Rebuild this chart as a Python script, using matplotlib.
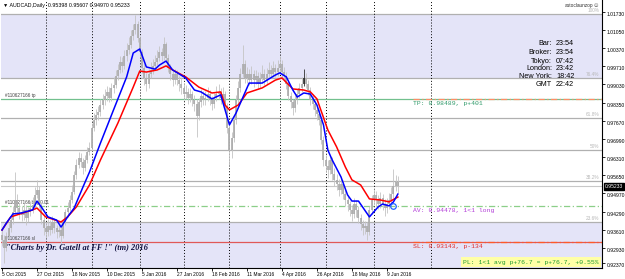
import matplotlib
matplotlib.use('Agg')
import matplotlib.pyplot as plt
from matplotlib.transforms import ScaledTranslation

plt.rcParams['font.family'] = ['Liberation Sans', 'DejaVu Sans']

# ---- data (daily bars from 5 Oct 2015) ----
symbol_line = 'AUDCAD,Daily  0.95398 0.95607 0.94970 0.95233'
open0 = 0.9340
closes = [
    0.9323, 0.9293, 0.9338, 0.9368, 0.9397, 0.9427, 0.9472, 0.9442, 0.9427, 0.9416,
    0.9435, 0.9405, 0.9427, 0.9442, 0.9453, 0.9491, 0.9509, 0.9453, 0.9397, 0.9368,
    0.9353, 0.9375, 0.9360, 0.9390, 0.9368, 0.9353, 0.9360, 0.9338, 0.9390, 0.9427,
    0.9442, 0.9472, 0.9502, 0.9565, 0.9602, 0.9629, 0.9614, 0.9591, 0.9621, 0.9651,
    0.9666, 0.9740, 0.9770, 0.9789, 0.9800, 0.9826, 0.9845, 0.9860, 0.9875, 0.9852,
    0.9890, 0.9901, 0.9934, 0.9957, 0.9987, 0.9972, 1.0009, 1.0031, 1.0050, 1.0084,
    1.0106, 1.0128, 1.0076, 1.0024, 0.9964, 0.9927, 0.9905, 0.9942, 0.9957, 0.9972,
    0.9987, 1.0002, 1.0024, 1.0009, 1.0054, 1.0002, 0.9964, 0.9942, 0.9919, 0.9942,
    0.9919, 0.9905, 0.9890, 0.9867, 0.9875, 0.9852, 0.9867, 0.9845, 0.9830, 0.9785,
    0.9837, 0.9860, 0.9845, 0.9852, 0.9867, 0.9845, 0.9830, 0.9852, 0.9867, 0.9875,
    0.9852, 0.9867, 0.9823, 0.9740, 0.9658, 0.9703, 0.9770, 0.9845, 0.9890, 0.9942,
    0.9979, 0.9927, 0.9942, 0.9919, 0.9942, 0.9919, 0.9934, 0.9905, 0.9927, 0.9942,
    0.9919, 0.9942, 0.9957, 0.9942, 0.9964, 0.9949, 0.9964, 0.9979, 0.9949, 0.9934,
    0.9905, 0.9860, 0.9837, 0.9815, 0.9845, 0.9867, 0.9890, 0.9905, 0.9927, 0.9905,
    0.9882, 0.9845, 0.9830, 0.9808, 0.9793, 0.9770, 0.9696, 0.9621, 0.9599, 0.9584,
    0.9621, 0.9569, 0.9547, 0.9532, 0.9509, 0.9532, 0.9494, 0.9472, 0.9457, 0.9435,
    0.9420, 0.9457, 0.9435, 0.9405, 0.9382, 0.9368, 0.9375, 0.9353, 0.9435, 0.9472,
    0.9491, 0.9472, 0.9457, 0.9479, 0.9457, 0.9442, 0.9457, 0.9472, 0.9494, 0.9524,
    0.9540, 0.95233,
]
highs = [
    0.9362, 0.9341, 0.9352, 0.9385, 0.9410, 0.9449, 0.9576, 0.9495, 0.9460, 0.9448,
    0.9461, 0.9452, 0.9444, 0.9470, 0.9482, 0.9520, 0.9547, 0.9524, 0.9466, 0.9415,
    0.9389, 0.9401, 0.9398, 0.9412, 0.9405, 0.9380, 0.9384, 0.9371, 0.9402, 0.9440,
    0.9466, 0.9490, 0.9528, 0.9580, 0.9625, 0.9651, 0.9648, 0.9630, 0.9640, 0.9668,
    0.9690, 0.9760, 0.9795, 0.9812, 0.9823, 0.9850, 0.9868, 0.9885, 0.9896, 0.9893,
    0.9910, 0.9930, 0.9955, 0.9980, 1.0010, 1.0005, 1.0032, 1.0058, 1.0078, 1.0105,
    1.0130, 1.0162, 1.0140, 1.0085, 1.0035, 0.9980, 0.9945, 0.9960, 0.9985, 0.9998,
    1.0012, 1.0030, 1.0048, 1.0040, 1.0080, 1.0062, 1.0015, 0.9980, 0.9955, 0.9962,
    0.9958, 0.9935, 0.9925, 0.9908, 0.9900, 0.9890, 0.9888, 0.9880, 0.9862, 0.9848,
    0.9852, 0.9885, 0.9878, 0.9880, 0.9895, 0.9882, 0.9860, 0.9870, 0.9898, 0.9905,
    0.9890, 0.9892, 0.9880, 0.9835, 0.9755, 0.9725, 0.9790, 0.9862, 0.9915, 0.9965,
    1.0050, 0.9995, 0.9968, 0.9960, 0.9970, 0.9955, 0.9958, 0.9948, 0.9950, 0.9975,
    0.9960, 0.9965, 0.9985, 0.9975, 0.9990, 0.9980, 0.9995, 1.0010, 0.9995, 0.9968,
    0.9948, 0.9920, 0.9875, 0.9850, 0.9862, 0.9885, 0.9910, 0.9930, 0.9960, 0.9945,
    0.9918, 0.9895, 0.9868, 0.9845, 0.9825, 0.9810, 0.9782, 0.9710, 0.9640, 0.9620,
    0.9640, 0.9632, 0.9590, 0.9570, 0.9550, 0.9555, 0.9545, 0.9510, 0.9490, 0.9470,
    0.9455, 0.9480, 0.9472, 0.9450, 0.9420, 0.9398, 0.9395, 0.9390, 0.9450, 0.9490,
    0.9512, 0.9505, 0.9490, 0.9500, 0.9495, 0.9475, 0.9480, 0.9498, 0.9520, 0.9588,
    0.9565, 0.95607,
]
lows = [
    0.9301, 0.9237, 0.9280, 0.9325, 0.9352, 0.9384, 0.9418, 0.9428, 0.9401, 0.9392,
    0.9399, 0.9380, 0.9390, 0.9413, 0.9425, 0.9440, 0.9478, 0.9441, 0.9381, 0.9340,
    0.9330, 0.9339, 0.9341, 0.9350, 0.9349, 0.9329, 0.9335, 0.9312, 0.9330, 0.9378,
    0.9410, 0.9430, 0.9460, 0.9495, 0.9551, 0.9590, 0.9596, 0.9570, 0.9580, 0.9610,
    0.9638, 0.9655, 0.9728, 0.9752, 0.9770, 0.9784, 0.9810, 0.9828, 0.9842, 0.9836,
    0.9840, 0.9872, 0.9888, 0.9920, 0.9945, 0.9950, 0.9960, 0.9992, 1.0015, 1.0038,
    1.0070, 1.0092, 1.0060, 1.0005, 0.9945, 0.9900, 0.9878, 0.9890, 0.9925, 0.9940,
    0.9955, 0.9975, 0.9990, 0.9990, 0.9995, 0.9985, 0.9948, 0.9920, 0.9898, 0.9905,
    0.9900, 0.9880, 0.9868, 0.9845, 0.9850, 0.9830, 0.9838, 0.9822, 0.9805, 0.9707,
    0.9770, 0.9820, 0.9825, 0.9828, 0.9840, 0.9825, 0.9808, 0.9815, 0.9840, 0.9850,
    0.9830, 0.9838, 0.9800, 0.9720, 0.9602, 0.9630, 0.9690, 0.9755, 0.9830, 0.9875,
    0.9930, 0.9910, 0.9910, 0.9900, 0.9905, 0.9895, 0.9905, 0.9885, 0.9890, 0.9912,
    0.9900, 0.9905, 0.9930, 0.9925, 0.9930, 0.9930, 0.9935, 0.9950, 0.9930, 0.9915,
    0.9885, 0.9845, 0.9815, 0.9790, 0.9800, 0.9830, 0.9852, 0.9875, 0.9898, 0.9888,
    0.9862, 0.9825, 0.9810, 0.9785, 0.9770, 0.9750, 0.9680, 0.9600, 0.9575, 0.9555,
    0.9570, 0.9548, 0.9525, 0.9510, 0.9488, 0.9495, 0.9475, 0.9450, 0.9430, 0.9412,
    0.9395, 0.9405, 0.9410, 0.9385, 0.9360, 0.9340, 0.9345, 0.9323, 0.9340, 0.9420,
    0.9455, 0.9450, 0.9438, 0.9442, 0.9435, 0.9412, 0.9425, 0.9440, 0.9460, 0.9480,
    0.9505, 0.94970,
]
dark_bars = [138]

# moving averages (blue fast, red slow), sampled at bar indices
blue_bars = [0, 2, 5, 9, 14, 16, 18, 21, 25, 27, 30, 33, 37, 40, 45, 51, 57, 60, 63, 66,
             70, 72, 75, 78, 84, 88, 91, 96, 100, 102, 104, 107, 110, 113, 119, 125, 127, 130, 133, 135,
             138, 141, 144, 147, 149, 151, 155, 158, 160, 163, 168, 172, 174, 177, 179, 181]
blue_vals = [0.9360, 0.9386, 0.9420, 0.9424, 0.9435, 0.9468, 0.9446, 0.9409, 0.9397, 0.9371,
             0.9409, 0.9442, 0.9520, 0.9576, 0.9684, 0.9808, 0.9931, 1.0020, 1.0035, 0.9968,
             0.9960, 0.9975, 0.9990, 0.9957, 0.9927, 0.9882, 0.9875, 0.9849, 0.9864, 0.9808,
             0.9752, 0.9796, 0.9852, 0.9908, 0.9908, 0.9938, 0.9946, 0.9931, 0.9882, 0.9856,
             0.9871, 0.9867, 0.9826, 0.9752, 0.9658, 0.9621, 0.9558, 0.9491, 0.9468, 0.9468,
             0.9409, 0.9446, 0.9457, 0.9450, 0.9465, 0.9494]
red_bars = [0, 4, 14, 16, 20, 27, 30, 34, 40, 45, 53, 60, 63, 66, 71, 75, 78, 84, 90, 96,
            100, 102, 104, 108, 112, 119, 125, 128, 133, 138, 141, 144, 149, 153, 157, 160, 164, 168, 173, 177,
            181]
red_vals = [0.9360, 0.9409, 0.9435, 0.9442, 0.9409, 0.9390, 0.9409, 0.9446, 0.9528, 0.9621,
            0.9759, 0.9893, 0.9953, 0.9949, 0.9957, 0.9972, 0.9957, 0.9931, 0.9893, 0.9871,
            0.9875, 0.9826, 0.9808, 0.9826, 0.9871, 0.9890, 0.9919, 0.9927, 0.9886, 0.9882,
            0.9875, 0.9849, 0.9733, 0.9670, 0.9595, 0.9547, 0.9528, 0.9476, 0.9472, 0.9465,
            0.9483]

date_bars = [0, 16, 32, 48, 64, 80, 96, 112, 128, 144, 160, 176]
date_labels = ['5 Oct 2015', '27 Oct 2015', '18 Nov 2015', '10 Dec 2015', '5 Jan 2016',
               '27 Jan 2016', '18 Feb 2016', '11 Mar 2016', '4 Apr 2016', '26 Apr 2016',
               '18 May 2016', '9 Jun 2016']
sep_bars = [20, 41, 63, 83, 104, 127, 148, 170, 196]

price_ticks = [1.01730, 1.01050, 1.00370, 0.99710, 0.99030, 0.98350, 0.97670, 0.96990,
               0.96310, 0.95650, 0.94970, 0.94290, 0.93610, 0.92930, 0.92370]
last_price = 0.95233

fib_names = ['100%', '76.4%', '61.8%', '50%', '38.2%', '23.6%']
fib_prices = [1.0166, 0.9926, 0.9778, 0.9658, 0.9541, 0.9390]

order_id = '#110627166'
tp_price = 0.98489
entry_price = 0.94478
sl_price = 0.93143
entry_bar = 179
label_bar = 188
tp_text = 'TP: 0.98489, p+401'
av_text = 'AV: 0.94478, 1<1 long'
sl_text = 'SL: 0.93143, p-134'
pl_text = 'PL: 1<1 avg p+76.7 = p+76.7, +0.55%'
watermark = '"Charts by Dr. Gatell at FF !" (tm) 2016'
expert_name = 'autoclaunzop'

info_names = ['Bar:', 'Broker:', 'Tokyo:', 'London:', 'New York:', 'GMT']
info_times = ['23:54', '23:54', '07:42', '23:42', '18:42', '22:42']

# ---- figure ----
fig = plt.figure(figsize=(6.25, 2.79), dpi=100)
ax = fig.add_axes([1 / 625, 11 / 279, 601 / 625, 268 / 279])
ax.set_xlim(-0.457, 274.35)
ax.set_ylim(0.92184, 1.02177)


def shift(dx, dy):
    # offset in screen pixels
    return ScaledTranslation(dx / 100, dy / 100, fig.dpi_scale_trans)


# fibo shaded zones and levels
ax.axhspan(fib_prices[1], fib_prices[0], color='#e4e4f8', lw=0, zorder=0)
ax.axhspan(0.92184, fib_prices[-1], color='#e4e4f8', lw=0, zorder=0)
for name, p in zip(fib_names, fib_prices):
    ax.axhline(p, color='#b0b0b0', lw=0.9, zorder=1)
    ax.text(0.995, p, name, transform=ax.get_yaxis_transform() + shift(0, 1),
            ha='right', va='bottom', fontsize=3.4, color='#b8b8b8')
ax.axhline(last_price, color='#c8c8c8', lw=0.8, zorder=1)

# period separators
for b in sep_bars:
    ax.axvline(b, color='black', lw=0.7, ls=(0, (1, 2)), zorder=2)

# order lines
ax.axhline(tp_price, color='#72c08e', lw=0.9, zorder=2)
ax.axhline(entry_price, color='#8ccf88', lw=0.9, ls=(0, (5, 2, 1, 2)), zorder=2)
ax.axhline(sl_price, color='#e05858', lw=0.9, zorder=2)
ax.hlines(tp_price, label_bar, 274.35, color='#ff8c66', lw=0.9, linestyles=(0, (5, 2, 1, 2)), zorder=3)
ax.hlines(sl_price, label_bar, 274.35, color='#ff5a28', lw=0.9, linestyles=(0, (5, 2, 1, 2)), zorder=3)

for txt, p in [(order_id + ' tp', tp_price), (order_id + ' buy 0.01', entry_price),
               (order_id + ' sl', sl_price)]:
    ax.text(1.4, p, txt, transform=ax.transData + shift(0, 1), fontsize=3.3,
            color='#404040', va='bottom', ha='left', zorder=3)

# candles
n = len(closes)
opens = [open0] + closes[:-1]
bars = list(range(n))
wick_col = ['#303030' if i in dark_bars else '#c4c4c4' for i in bars]
body_col = ['#303030' if i in dark_bars else '#aaaaaa' for i in bars]
ax.vlines(bars, lows, highs, colors=wick_col, lw=0.6, zorder=4)
ax.vlines(bars, [min(o, c) for o, c in zip(opens, closes)],
          [max(o, c) for o, c in zip(opens, closes)], colors=body_col, lw=1.2, zorder=4)

# moving averages
ax.plot(red_bars, red_vals, color='#ff0000', lw=1.1, zorder=5)
ax.plot(blue_bars, blue_vals, color='#0000ff', lw=1.1, zorder=6)
ax.plot([entry_bar], [entry_price], 'o', mfc='none', mec='#1e64ff', ms=4, mew=0.9, zorder=7)

# trade labels
mono = 'Liberation Mono'
ax.text(label_bar, tp_price, tp_text, transform=ax.transData + shift(0, -2), family=mono,
        fontsize=4.6, color='#2f9a6a', va='top', ha='left', zorder=8)
ax.text(label_bar, entry_price, av_text, transform=ax.transData + shift(0, -2), family=mono,
        fontsize=4.6, color='#b23cd8', va='top', ha='left', zorder=8)
ax.text(label_bar, sl_price, sl_text, transform=ax.transData + shift(0, -2), family=mono,
        fontsize=4.6, color='#e02a2a', va='top', ha='left', zorder=8)
ax.text(0.995, 0.022, pl_text, transform=ax.transAxes, family=mono, fontsize=4.55,
        color='#1f9a2f', va='center', ha='right', zorder=8,
        bbox=dict(facecolor='#ffffa6', edgecolor='none', pad=1.6))

ax.text(0.0083, 0.0746, watermark, transform=ax.transAxes, family='Liberation Serif',
        fontsize=6, style='italic', weight='bold', color='#101040', va='center', ha='left', zorder=8)

# header texts
ax.text(0.0033, 0.978, '\u25bc ' + symbol_line, transform=ax.transAxes, fontsize=3.8,
        color='black', va='center', ha='left')
ax.text(0.985, 0.978, expert_name, transform=ax.transAxes, fontsize=3.4,
        color='#303030', va='center', ha='right')
ax.text(0.995, 0.978, '\u263a', transform=ax.transAxes, fontsize=4.5,
        color='#303030', va='center', ha='right')

info_y = [0.838, 0.803, 0.772, 0.743, 0.714, 0.683]
for name, t, y in zip(info_names, info_times, info_y):
    ax.text(0.917, y, name, transform=ax.transAxes, fontsize=5.2, ha='right', va='center', zorder=8)
    ax.text(0.9235, y, t, transform=ax.transAxes, fontsize=5.2, ha='left', va='center', zorder=8)

# axes styling
for s in ['left', 'top']:
    ax.spines[s].set_visible(False)
for s in ['right', 'bottom']:
    ax.spines[s].set_color('black')
    ax.spines[s].set_linewidth(0.8)

ax.yaxis.tick_right()
ax.set_yticks(price_ticks)
ax.set_yticklabels(['%.5f' % p for p in price_ticks])
ax.tick_params(axis='y', length=2, width=0.6, pad=1.5, labelsize=3.6)
for lab in ax.get_yticklabels():
    lab.set_transform(lab.get_transform() + shift(0, -2))

ax.set_xticks(date_bars)
ax.set_xticklabels(date_labels)
ax.tick_params(axis='x', length=2, width=0.6, pad=0.8, labelsize=3.5)
for lab in ax.get_xticklabels():
    lab.set_horizontalalignment('left')

ax.annotate('%.5f' % last_price, xy=(1, last_price), xycoords=ax.get_yaxis_transform(),
            xytext=(2.0, 0), textcoords='offset points', fontsize=3.6, color='white',
            va='center', ha='left', annotation_clip=False,
            bbox=dict(facecolor='black', edgecolor='black', pad=0.8))

fig.savefig('out.png', dpi=100)
